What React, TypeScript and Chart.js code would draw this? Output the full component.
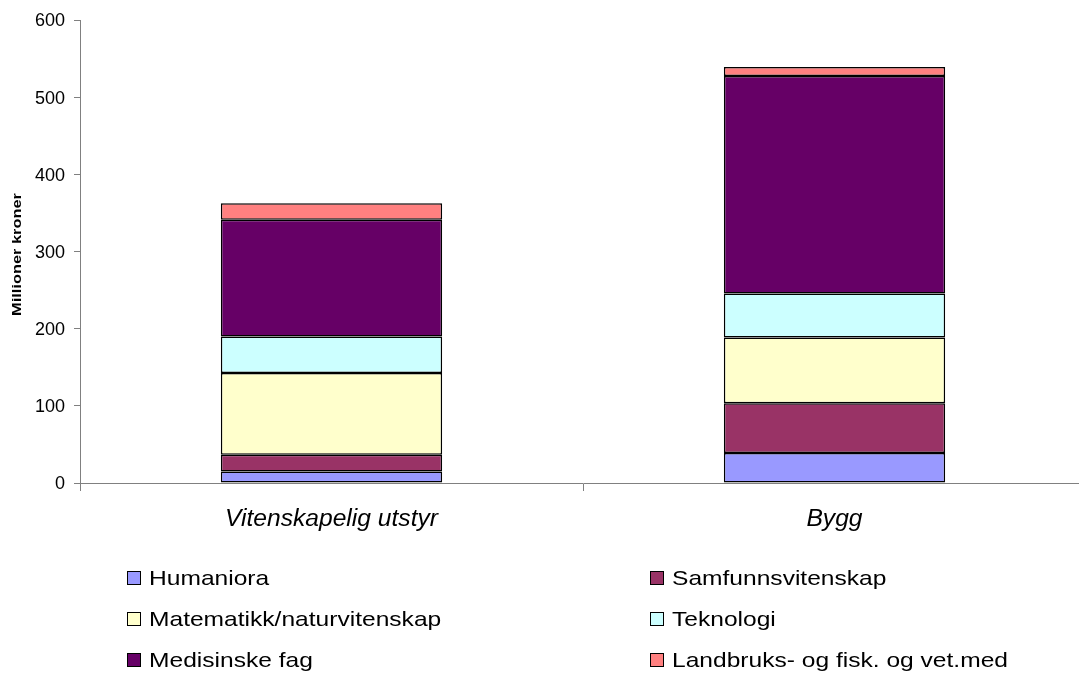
import React, { useEffect, useRef } from "react";
import { Chart, registerables } from "chart.js";

Chart.register(...registerables);

const categories = ["Vitenskapelig utstyr", "Bygg"];
const seriesNames = [
  "Humaniora",
  "Samfunnsvitenskap",
  "Matematikk/naturvitenskap",
  "Teknologi",
  "Medisinske fag",
  "Landbruks- og fisk. og vet.med",
];
const humaniora = [15, 39];
const samfunnsvitenskap = [21.5, 64.5];
const matematikk = [106, 85];
const teknologi = [47.5, 57];
const medisinske = [151, 282];
const landbruk = [21.5, 11.5];
const colors = ["#9999FF", "#993366", "#FFFFCC", "#CCFFFF", "#660066", "#FF8080"];
const yTicks = [0, 100, 200, 300, 400, 500, 600];
const yTitle = "Millioner kroner";

const FONT = "'Liberation Sans', Arial, sans-serif";

function stretchedText(ctx: any, text: string, x: number, y: number, sx: number, align: string) {
  ctx.save();
  ctx.translate(x, y);
  ctx.scale(sx, 1);
  ctx.textAlign = align;
  ctx.fillText(text, 0, 0);
  ctx.restore();
}

const textPlugin = {
  id: "customText",
  afterDraw(chart: any) {
    const ctx = chart.ctx;
    const yScale = chart.scales.y;
    const xScale = chart.scales.x;
    ctx.save();
    ctx.fillStyle = "#000";

    // y tick labels
    ctx.font = `18px ${FONT}`;
    ctx.textBaseline = "middle";
    ctx.textAlign = "right";
    yTicks.forEach((v) => {
      ctx.fillText(String(v), 65, yScale.getPixelForValue(v) + 1.5);
    });

    // y title
    ctx.save();
    ctx.font = `bold 13px ${FONT}`;
    ctx.translate(17, (yScale.top + yScale.bottom) / 2 + 3);
    ctx.rotate(-Math.PI / 2);
    ctx.scale(1.26, 1);
    ctx.textAlign = "center";
    ctx.textBaseline = "middle";
    ctx.fillText(yTitle, 0, 0);
    ctx.restore();

    // category labels
    ctx.font = `italic 23px ${FONT}`;
    ctx.textBaseline = "alphabetic";
    categories.forEach((c, i) => {
      stretchedText(ctx, c, xScale.getPixelForValue(i), 526, 1.07, "center");
    });

    // legend
    const cols = [127, 650];
    const rows = [585, 626, 667];
    ctx.font = `21px ${FONT}`;
    ctx.textBaseline = "alphabetic";
    chart.data.datasets.forEach((ds: any, i: number) => {
      const x = cols[i % 2];
      const y = rows[Math.floor(i / 2)];
      ctx.fillStyle = ds.backgroundColor;
      ctx.fillRect(x + 0.5, y - 13.5, 13, 13);
      ctx.strokeStyle = "#000";
      ctx.lineWidth = 1;
      ctx.strokeRect(x + 0.5, y - 13.5, 13, 13);
      ctx.fillStyle = "#000";
      stretchedText(ctx, ds.label, x + 22, y, 1.17, "left");
    });
    ctx.restore();
  },
};

export default function App() {
  const ref = useRef<HTMLCanvasElement>(null);
  useEffect(() => {
    document.body.style.margin = "0";
    document.body.style.overflow = "hidden";
    const values = [humaniora, samfunnsvitenskap, matematikk, teknologi, medisinske, landbruk];
    const chart = new Chart(ref.current!, {
      type: "bar",
      data: {
        labels: categories,
        datasets: values.map((v, i) => ({
          label: seriesNames[i],
          data: v,
          backgroundColor: colors[i],
          borderColor: "#000",
          borderWidth: 1.5,
          borderSkipped: false,
          barPercentage: 0.44,
          categoryPercentage: 1,
        })),
      },
      options: {
        animation: false,
        responsive: false,
        maintainAspectRatio: false,
        layout: { padding: { top: 20, right: 0, left: 0, bottom: 0 } },
        plugins: { legend: { display: false }, tooltip: { enabled: false } },
        scales: {
          x: {
            stacked: true,
            offset: true,
            afterFit: (s: any) => {
              s.height = 192;
            },
            grid: {
              drawOnChartArea: false,
              drawTicks: true,
              tickLength: 8,
              color: "#808080",
              offset: true,
            },
            border: { color: "#808080", width: 1 },
            ticks: { display: false },
          },
          y: {
            stacked: true,
            min: 0,
            max: 600,
            afterFit: (s: any) => {
              s.width = 80;
            },
            afterBuildTicks: (s: any) => {
              s.ticks = yTicks.map((v) => ({ value: v }));
            },
            grid: {
              drawOnChartArea: false,
              drawTicks: true,
              tickLength: 6,
              color: "#808080",
            },
            border: { color: "#808080", width: 1 },
            ticks: { display: false },
          },
        },
      },
      plugins: [textPlugin],
    });
    return () => chart.destroy();
  }, []);
  return <canvas ref={ref} width={1086} height={675} style={{ display: "block" }} />;
}
